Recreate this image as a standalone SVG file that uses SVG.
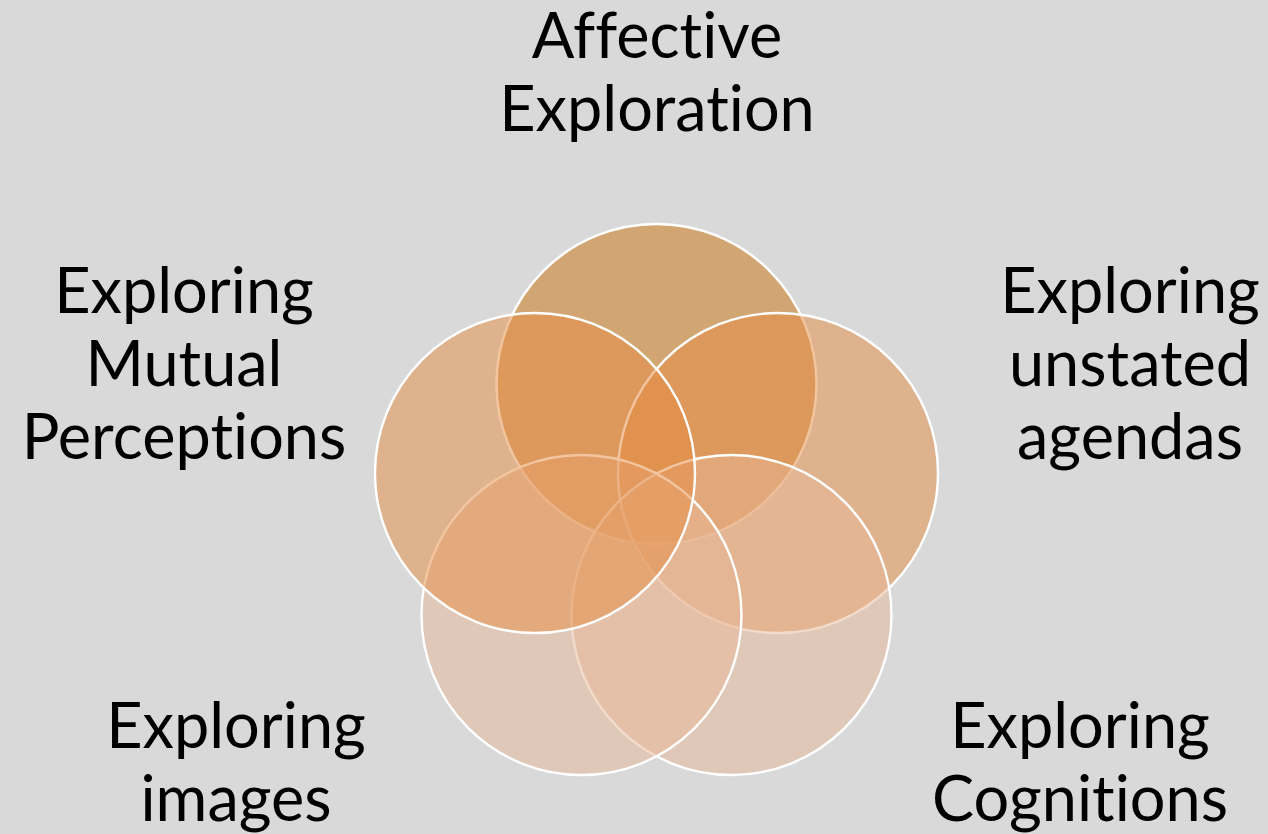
<svg xmlns="http://www.w3.org/2000/svg" width="1268" height="834" viewBox="0 0 1268 834">
<style>
.c{stroke:#FFFFFF;stroke-width:2.4;fill-opacity:0.5}
.t{font-family:Lato,"Liberation Sans",sans-serif;font-size:63px;fill:#000000;text-anchor:middle;font-variant-ligatures:none;font-feature-settings:"liga" 0,"clig" 0,"dlig" 0}
</style>
<rect width="1268" height="834" fill="#D9D9D9"/>
<g id="circles">
<g id="node-top"><circle class="c" cx="656.5" cy="384" r="160" fill="#CB730D"/></g>
<g id="node-right"><circle class="c" cx="778" cy="473" r="160" fill="#E58B43"/></g>
<g id="node-bottom-right"><circle class="c" cx="731.5" cy="615" r="160" fill="#E7B797"/></g>
<g id="node-bottom-left"><circle class="c" cx="581.5" cy="615" r="160" fill="#E7B797"/></g>
<g id="node-left"><circle class="c" cx="535" cy="473" r="160" fill="#E58B43"/></g>
</g>
<g id="connectors"/>
<g id="labels">
<g id="label-top"><text class="t" x="657" y="58">Affective</text><text class="t" x="657" y="131">Exploration</text></g>
<g id="label-left"><text class="t" x="184" y="313">Exploring</text><text class="t" x="184" y="386">Mutual</text><text class="t" x="184" y="459">Perceptions</text></g>
<g id="label-right"><text class="t" x="1130" y="313">Exploring</text><text class="t" x="1130" y="386">unstated</text><text class="t" x="1130" y="459">agendas</text></g>
<g id="label-bottom-left"><text class="t" x="236" y="748">Exploring</text><text class="t" x="236" y="821">images</text></g>
<g id="label-bottom-right"><text class="t" x="1080" y="748">Exploring</text><text class="t" x="1080" y="821">Cognitions</text></g>
</g>
</svg>
